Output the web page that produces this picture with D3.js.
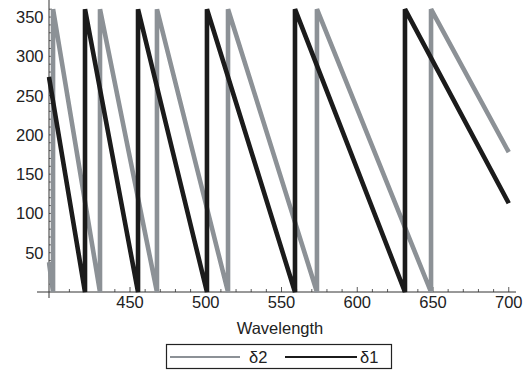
<!DOCTYPE html>
<html>
<head>
<meta charset="utf-8">
<script src="https://cdn.jsdelivr.net/npm/d3@7"></script>
<style>
  html, body { margin: 0; padding: 0; background: #fff; }
  svg { display: block; }
  text { font-family: "Liberation Sans", Arial, Helvetica, sans-serif; fill: #222; }
</style>
</head>
<body>
<svg id="chart" width="526" height="373"></svg>
<script>
// ---- data ----
const seriesNames = ["δ2", "δ1"];
// δ2 (gray): [wavelength, degrees]
const delta2 = [
  [396.5, 38], [399.2, 0], [399.2, 360], [430.2, 0], [430.2, 360],
  [467.8, 0], [467.8, 360], [514.7, 0], [514.7, 360], [573.4, 0],
  [573.4, 360], [648.7, 0], [648.7, 360], [700, 178]
];
// δ1 (black)
const delta1 = [
  [396.5, 274], [420.3, 0], [420.3, 360], [455.3, 0], [455.3, 360],
  [500.8, 0], [500.8, 360], [558.9, 0], [558.9, 360], [631.5, 0],
  [631.5, 360], [700, 113]
];
const xTickLabels = [450, 500, 550, 600, 650, 700];
const yTickLabels = [50, 100, 150, 200, 250, 300, 350];
const xTitle = "Wavelength";

// ---- layout ----
const svg = d3.select("#chart");
const x = d3.scaleLinear().domain([400, 700]).range([54.25, 508.75]);
const y = d3.scaleLinear().domain([0, 360]).range([292, 9.2]);
const axisX = 49;   // where the vertical axis sits
const axisY = y(0);
const gray = "#8c9196", black = "#1b1b1b";

// axes lines
svg.append("line").attr("x1", 37).attr("x2", 516).attr("y1", axisY).attr("y2", axisY)
  .attr("stroke", "#333").attr("stroke-width", 1);
svg.append("line").attr("x1", axisX).attr("x2", axisX).attr("y1", 0).attr("y2", 298)
  .attr("stroke", "#333").attr("stroke-width", 1);

// x ticks (inside, upward)
const xMinor = d3.range(400, 701, 10);
svg.append("g").selectAll("line").data(xMinor).join("line")
  .attr("x1", d => x(d)).attr("x2", d => x(d))
  .attr("y1", axisY).attr("y2", d => axisY - (d % 50 === 0 ? 5 : 3))
  .attr("stroke", "#333").attr("stroke-width", 0.8);
svg.append("g").selectAll("text").data(xTickLabels).join("text")
  .attr("x", d => x(d)).attr("y", 307.5)
  .attr("text-anchor", "middle").attr("font-size", 16.5)
  .text(d => d);

// y ticks (inside, rightward)
const yMinor = d3.range(10, 361, 10);
svg.append("g").selectAll("line").data(yMinor).join("line")
  .attr("x1", axisX).attr("x2", d => axisX + (d % 50 === 0 ? 5 : 3))
  .attr("y1", d => y(d)).attr("y2", d => y(d))
  .attr("stroke", "#333").attr("stroke-width", 0.8);
svg.append("g").selectAll("text").data(yTickLabels).join("text")
  .attr("x", 43.5).attr("y", d => y(d) + 6)
  .attr("text-anchor", "end").attr("font-size", 16.5)
  .text(d => d);

// x title
svg.append("text").attr("x", 280).attr("y", 334).attr("text-anchor", "middle")
  .attr("font-size", 16.5).text(xTitle);

// series
const line = d3.line().x(d => x(d[0])).y(d => y(d[1]));
svg.append("defs").append("clipPath").attr("id", "clip")
  .append("rect").attr("x", axisX - 2.5).attr("y", 0).attr("width", 470).attr("height", 300);
const plot = svg.append("g").attr("clip-path", "url(#clip)");
plot.append("path").datum(delta2).attr("d", line)
  .attr("fill", "none").attr("stroke", gray).attr("stroke-width", 4.6)
  .attr("stroke-linejoin", "bevel");
plot.append("path").datum(delta1).attr("d", line)
  .attr("fill", "none").attr("stroke", black).attr("stroke-width", 4.6)
  .attr("stroke-linejoin", "bevel");

// legend
const lg = svg.append("g");
lg.append("rect").attr("x", 166.5).attr("y", 344.5).attr("width", 225).attr("height", 24)
  .attr("fill", "#fff").attr("stroke", "#222").attr("stroke-width", 1.2);
const legendItems = [
  { name: seriesNames[0], color: gray, x1: 170, x2: 240, tx: 249 },
  { name: seriesNames[1], color: black, x1: 285, x2: 357, tx: 360 }
];
legendItems.forEach(it => {
  lg.append("line").attr("x1", it.x1).attr("x2", it.x2).attr("y1", 357).attr("y2", 357)
    .attr("stroke", it.color).attr("stroke-width", 2.2);
  lg.append("text").attr("x", it.tx).attr("y", 363).attr("font-size", 16.5).text(it.name);
});
</script>
</body>
</html>
